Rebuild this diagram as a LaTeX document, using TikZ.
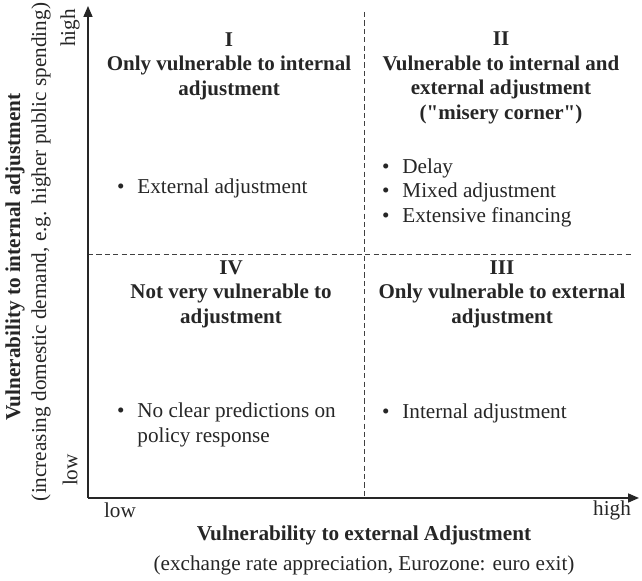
\documentclass[tikz,border=0pt]{standalone}
\usepackage{fontspec}
\setmainfont{Liberation Serif}
\usetikzlibrary{arrows.meta}
\begin{document}
\begin{tikzpicture}[x=0.5pt,y=-0.5pt,
  every node/.style={inner sep=0pt, outer sep=0pt, font=\fontsize{10.6}{12.3}\selectfont, text=black!85},
  axisline/.style={line width=0.8pt, black!85, -{Triangle[length=5.5pt,width=4.5pt]}},
  divider/.style={line width=0.5pt, black!75, dash pattern=on 2.6pt off 1.6pt},
  qtitle/.style={align=center, font=\fontsize{10.5}{12.3}\selectfont\bfseries},
  bul/.style={anchor=west, align=left}]
\useasboundingbox (0,0) rectangle (642,581);
\coordinate (O) at (88,498);
\coordinate (ytop) at (88,6);
\coordinate (xend) at (639,498);
\coordinate (vtop) at (364,12);
\coordinate (vbot) at (364,498);
\coordinate (hl) at (88,255);
\coordinate (hr) at (632,255);
\draw[divider] (vtop) -- (vbot);
\draw[divider] (hl) -- (hr);
\draw[axisline] (O) -- (ytop);
\draw[axisline] (O) -- (xend);

\node[qtitle] (q1) at (229,66) {I\\Only vulnerable to internal\\adjustment};
\node[qtitle] (q2) at (501,78) {II\\Vulnerable to internal and\\external adjustment\\(\textquotedbl misery corner\textquotedbl)};
\node[qtitle] (q4) at (231,294) {IV\\Not very vulnerable to\\adjustment};
\node[qtitle] (q3) at (502,294) {III\\Only vulnerable to external\\adjustment};

\node[bul] (b1) at (117,189) {\begin{tabular}{@{}l@{\hspace{6.5pt}}l@{}}\textbullet & External adjustment\end{tabular}};
\node[bul] (b2) at (382,193) {\begin{tabular}{@{}l@{\hspace{6.5pt}}l@{}}\textbullet & Delay\\ \textbullet & Mixed adjustment\\ \textbullet & Extensive financing\end{tabular}};
\node[bul] (b4) at (117,425) {\begin{tabular}{@{}l@{\hspace{6.5pt}}l@{}}\textbullet & No clear predictions on\\ & policy response\end{tabular}};
\node[bul,anchor=base west] (b3) at (382,419) {\begin{tabular}{@{}l@{\hspace{6.5pt}}l@{}}\textbullet & Internal adjustment\end{tabular}};

\node (xlow) at (120,510) {low};
\node (xhigh) at (612,510) {high};
\node[font=\fontsize{10.6}{12.3}\selectfont\bfseries] (xt) at (364,535) {Vulnerability to external Adjustment};
\node (xs) at (364,565) {(exchange rate appreciation, Eurozone: euro exit)};

\node[rotate=90] (ylow) at (70,470) {low};
\node[rotate=90] (yhigh) at (70,28) {high};
\node[rotate=90, font=\fontsize{10.6}{12.3}\selectfont\bfseries] (yt) at (15,257) {Vulnerability to internal adjustment};
\node[rotate=90] (ys) at (41,252) {(increasing domestic demand, e.g. higher public spending)};
\end{tikzpicture}
\end{document}
